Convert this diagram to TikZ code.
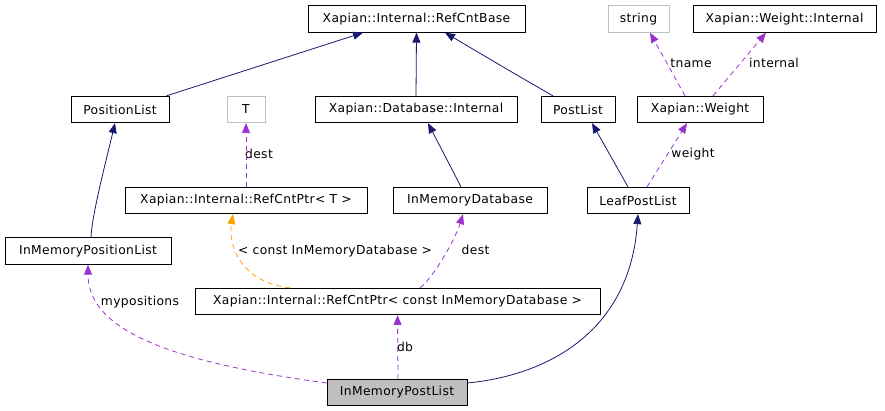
\documentclass[tikz,border=0pt]{standalone}
\usepackage{fontspec}
\setmainfont{DejaVu Sans}[LetterSpace=3]
\usetikzlibrary{arrows.meta,calc}
\definecolor{navy}{HTML}{191970}
\definecolor{orch}{HTML}{9A32CD}
\definecolor{orng}{HTML}{FFA500}
\definecolor{gbox}{HTML}{BFBFBF}
\begin{document}
\begin{tikzpicture}[x=1pt,y=-1pt,
  box/.style={draw=black, line width=0.8pt, minimum height=26.5pt, inner sep=0pt, font=\fontsize{12.3}{14}\selectfont},
  gray box/.style={box, draw=gbox},
  lbl/.style={inner sep=0pt, font=\fontsize{12.3}{14}\selectfont},
  inherit/.style={draw=navy, line width=0.8pt, -{Triangle[length=10pt,width=8pt,fill=navy]}},
  usage/.style={draw=orch, line width=0.8pt, dash pattern=on 5pt off 4pt, -{Triangle[length=10pt,width=8pt,fill=orch]}},
  templ/.style={draw=orng, line width=0.8pt, dash pattern=on 5pt off 4pt, -{Triangle[length=10pt,width=8pt,fill=orng]}}]
\useasboundingbox (0,0) rectangle (885,411);
% nodes
\node[box, minimum width=217pt] (base) at (416.5,19) {Xapian::Internal::RefCntBase};
\node[gray box, minimum width=61pt] (string) at (638.5,19) {string};
\node[box, minimum width=183pt] (wint) at (784.5,19) {Xapian::Weight::Internal};
\node[box, minimum width=98pt] (plist) at (120,109.5) {PositionList};
\node[gray box, minimum width=38pt] (T) at (246,109.5) {T};
\node[box, minimum width=202pt] (dbi) at (416,109.5) {Xapian::Database::Internal};
\node[box, minimum width=74pt] (postlist) at (578,109.5) {PostList};
\node[box, minimum width=126pt] (weight) at (700,109.5) {Xapian::Weight};
\node[box, minimum width=242pt] (rcpT) at (246,200.5) {Xapian::Internal::RefCntPtr< T >};
\node[box, minimum width=154pt] (imdb) at (470,200.5) {InMemoryDatabase};
\node[box, minimum width=102pt] (leaf) at (638,200.5) {LeafPostList};
\node[box, minimum width=166pt] (impl) at (88,251) {InMemoryPositionList};
\node[box, minimum width=405pt] (rcpc) at (397.5,301.5) {Xapian::Internal::RefCntPtr< const InMemoryDatabase >};
\node[box, fill=gbox, minimum width=140pt] (impostl) at (397,392.5) {InMemoryPostList};
% labels
\node[lbl] (ldest1) at (259,154) {dest};
\node[lbl] (ltname) at (691,63) {tname};
\node[lbl] (linternal) at (774,63) {internal};
\node[lbl] (lweight) at (693,154) {weight};
\node[lbl] (ltempl) at (335,251) {< const InMemoryDatabase >};
\node[lbl] (ldest2) at (475.5,250) {dest};
\node[lbl] (lmypos) at (140,302) {mypositions};
\node[lbl] (ldb) at (405,347) {db};
% connectors
\draw[inherit] ($(plist.north east)+(-3,0)$) -- ($(base.south)+(-53.5,0)$);
\draw[inherit] (dbi.north) -- (base.south);
\draw[inherit] ($(postlist.north)+(-25,0)$) .. controls (515,74) .. ($(base.south)+(28.5,0)$);
\draw[inherit] ($(impl.north)+(3,0)$) .. controls (92,215) and (105,165) .. ($(plist.south)+(-5,0)$);
\draw[usage] (rcpT.north) -- (T.south);
\draw[inherit] ($(imdb.north)+(-9,0)$) -- ($(dbi.south)+(12,0)$);
\draw[inherit] ($(leaf.north)+(-10,0)$) -- ($(postlist.south)+(14,0)$);
\draw[usage] ($(leaf.north)+(9,0)$) -- ($(weight.south)+(-13,0)$);
\draw[usage] ($(weight.north)+(-15,0)$) -- ($(string.south)+(11.5,0)$);
\draw[usage] ($(weight.north)+(13,0)$) -- ($(wint.south)+(-18.5,0)$);
\draw[templ] ($(rcpc.north)+(-107.5,0)$) .. controls (240,282) and (228,245) .. ($(rcpT.south)+(-13,0)$);
\draw[usage] ($(rcpc.north)+(22.5,0)$) .. controls (433,278) and (455,240) .. ($(imdb.south)+(-7,0)$);
\draw[usage] ($(impostl.west)+(0,-9.5)$) .. controls (170,362) and (88,330) .. (impl.south);
\draw[usage] ($(impostl.north)+(1,0)$) -- (rcpc.south);
\draw[inherit] ($(impostl.east)+(0,-9.5)$) .. controls (550,375) and (630,330) .. (leaf.south);
\end{tikzpicture}
\end{document}
